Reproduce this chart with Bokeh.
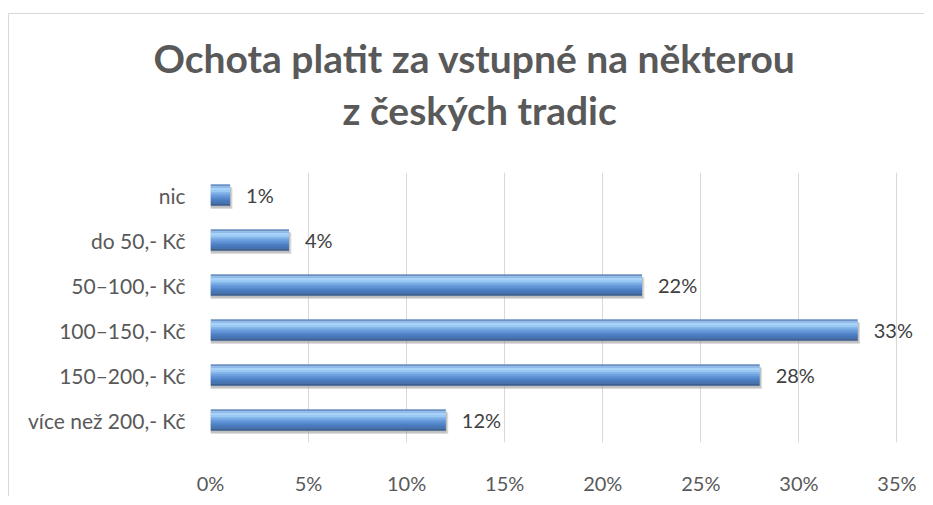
from bokeh.plotting import figure
from bokeh.models import ColumnDataSource, FactorRange, Range1d, FixedTicker, NumeralTickFormatter, Title
from bokeh.transform import dodge
from bokeh.core.properties import value
from bokeh.embed import file_html
from bokeh.resources import INLINE

# ---- data ----
categories = ["nic", "do 50,- Kč", "50–100,- Kč", "100–150,- Kč", "150–200,- Kč", "více než 200,- Kč"]
shares = [0.01, 0.04, 0.22, 0.33, 0.28, 0.12]
x_ticks = [0.0, 0.05, 0.10, 0.15, 0.20, 0.25, 0.30, 0.35]
title_lines = ["Ochota platit za vstupné na některou", "z českých tradic"]

labels = [f"{round(v * 100)}%" for v in shares]
src = ColumnDataSource(dict(cat=categories, share=shares, label=labels))

FONT = "Lato"
W, H = 916, 483

p = figure(
    y_range=FactorRange(factors=list(reversed(categories)), range_padding=0),
    x_range=Range1d(0, 0.362),
    width=W, height=H,
    output_backend="svg", toolbar_location=None,
    min_border_left=201, min_border_right=5,
    min_border_top=158, min_border_bottom=49,
)
p.styles = {"margin-top": "13px", "margin-left": "8px",
            "border-left": "1px solid #d9d9d9", "border-top": "1px solid #d9d9d9"}
p.outline_line_color = None
p.background_fill_color = "white"
p.border_fill_color = "white"

# grid
p.xgrid.ticker = FixedTicker(ticks=x_ticks)
p.xgrid.grid_line_color = "#d9d9d9"
p.xgrid.grid_line_width = 1
p.ygrid.grid_line_color = None

BAR_H = 0.47

# soft shadow
for off_y, off_x, alpha in [(-0.075, 0.0012, 0.35), (-0.05, 0.0006, 0.45)]:
    p.hbar(y=dodge("cat", off_y, range=p.y_range), left=0,
           right=dodge("share", off_x), height=BAR_H,
           source=src, fill_color="#9a9a9a", fill_alpha=alpha, line_color=None)

# bevel-like gradient via stripes
stripe_colors = ["#6a90c4", "#8fbbea", "#a8d2f7", "#9acaf4", "#84b6ea", "#70a3e0",
                 "#6194d6", "#5587cb", "#4b7cc0", "#4574b5", "#3a5f93"]
n = len(stripe_colors)
sh = BAR_H / n
for k, col in enumerate(stripe_colors):
    off = BAR_H / 2 - (k + 0.5) * sh
    p.hbar(y=dodge("cat", off, range=p.y_range), left=0, right="share",
           height=sh * 1.2, source=src, fill_color=col, line_color=None)

# data labels
p.text(x="share", y="cat", text="label", source=src, x_offset=16,
       text_baseline="middle", text_align="left",
       text_font=value(FONT), text_font_size="20px", text_color="#404040")

# axes
p.xaxis.ticker = FixedTicker(ticks=x_ticks)
p.xaxis.formatter = NumeralTickFormatter(format="0%")
for ax in (p.xaxis[0], p.yaxis[0]):
    ax.axis_line_color = None
    ax.major_tick_line_color = None
    ax.minor_tick_line_color = None
    ax.major_label_text_font = FONT
    ax.major_label_text_color = "#595959"
p.xaxis.major_label_text_font_size = "20px"
p.yaxis.major_label_text_font_size = "21px"
p.xaxis.major_label_standoff = 22
p.yaxis.major_label_standoff = 19

# title: two lines, each its own Title; a blank spacer keeps them off the frame
def style_title(t, txt, offset, standoff, size="39px"):
    t.text = txt
    t.align = "left"
    t.offset = offset
    t.text_font = FONT
    t.text_font_style = "bold"
    t.text_font_size = size
    t.text_color = "#595959"
    t.standoff = standoff

style_title(p.title, title_lines[0], -57, 4)
spacer = Title()
style_title(spacer, " ", 0, 0, size="30px")
p.add_layout(spacer, "above")
t2 = Title()
style_title(t2, title_lines[1], 132, 4)
p.add_layout(t2, "above")

open("out.html", "w").write(file_html(p, INLINE))
